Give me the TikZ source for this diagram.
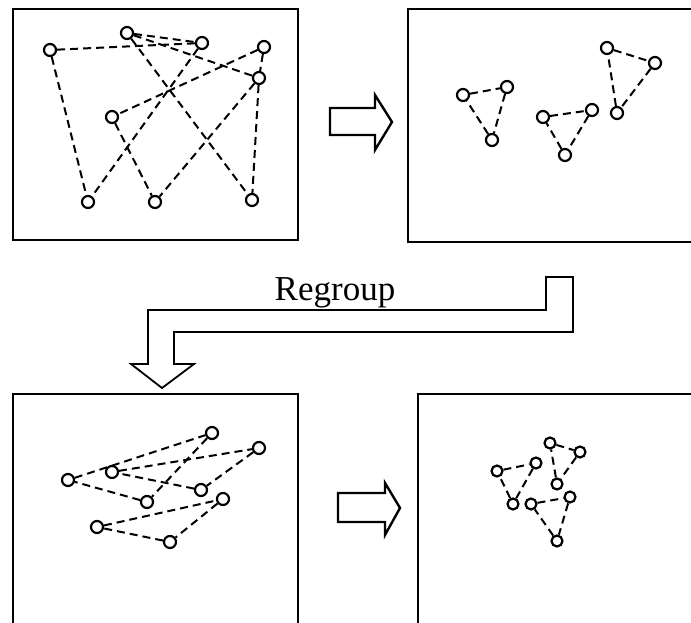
\documentclass[tikz,border=0pt]{standalone}
\usepackage{fontspec}
\setmainfont{Liberation Serif}
\usepackage{tikz}

\tikzset{
  vtx/.style={draw, circle, minimum size=12pt, inner sep=0pt, line width=2.2pt},
  link/.style={dashed, dash pattern=on 8pt off 5pt, line width=2pt},
  panel/.style={draw, line width=2.4pt},
  hollow/.style={draw, line width=2.4pt, line join=miter}
}

\begin{document}
\begin{tikzpicture}[x=1pt, y=-1pt]
    \useasboundingbox (0,0) rectangle (691,623);
    \clip (0,0) rectangle (691,623);

    % Panels
    \draw[panel] (13,9) rectangle (298,240);
    \draw[panel] (408,9) rectangle (720,242);
    \draw[panel] (13,394) rectangle (298,650);
    \draw[panel] (418,394) rectangle (720,650);

    % Panel 1: before grouping
    \node[vtx] (a1) at (50,50) {};
    \node[vtx] (a2) at (127,33) {};
    \node[vtx] (a3) at (202,43) {};
    \node[vtx] (a4) at (264,47) {};
    \node[vtx] (a5) at (259,78) {};
    \node[vtx] (a6) at (112,117) {};
    \node[vtx] (a7) at (88,202) {};
    \node[vtx] (a8) at (155,202) {};
    \node[vtx] (a9) at (252,200) {};
    \draw[link] (a1) -- (a3);
    \draw[link] (a2) -- (a3);
    \draw[link] (a2) -- (a5);
    \draw[link] (a2) -- (a9);
    \draw[link] (a1) -- (a7);
    \draw[link] (a3) -- (a7);
    \draw[link] (a4) -- (a5);
    \draw[link] (a4) -- (a6);
    \draw[link] (a5) -- (a8);
    \draw[link] (a5) -- (a9);
    \draw[link] (a6) -- (a8);

    % Panel 2: three groups
    \node[vtx] (b1) at (463,95) {};
    \node[vtx] (b2) at (507,87) {};
    \node[vtx] (b3) at (492,140) {};
    \node[vtx] (b4) at (543,117) {};
    \node[vtx] (b5) at (592,110) {};
    \node[vtx] (b6) at (565,155) {};
    \node[vtx] (b7) at (607,48) {};
    \node[vtx] (b8) at (655,63) {};
    \node[vtx] (b9) at (617,113) {};
    \draw[link] (b1) -- (b2) -- (b3) -- (b1);
    \draw[link] (b4) -- (b5) -- (b6) -- (b4);
    \draw[link] (b7) -- (b8) -- (b9) -- (b7);

    % Panel 3: regrouped
    \node[vtx] (c1) at (68,480) {};
    \node[vtx] (c2) at (112,472) {};
    \node[vtx] (c3) at (212,433) {};
    \node[vtx] (c4) at (259,448) {};
    \node[vtx] (c5) at (147,502) {};
    \node[vtx] (c6) at (201,490) {};
    \node[vtx] (c7) at (223,499) {};
    \node[vtx] (c8) at (97,527) {};
    \node[vtx] (c9) at (170,542) {};
    \draw[link] (c1) -- (c3) -- (c5) -- (c1);
    \draw[link] (c2) -- (c4) -- (c6) -- (c2);
    \draw[link] (c8) -- (c7) -- (c9) -- (c8);

    % Panel 4: after grouping
    \node[vtx, minimum size=11pt] (d1) at (497,471) {};
    \node[vtx, minimum size=11pt] (d2) at (536,463) {};
    \node[vtx, minimum size=11pt] (d3) at (550,443) {};
    \node[vtx, minimum size=11pt] (d4) at (580,452) {};
    \node[vtx, minimum size=11pt] (d5) at (557,484) {};
    \node[vtx, minimum size=11pt] (d6) at (513,504) {};
    \node[vtx, minimum size=11pt] (d7) at (531,504) {};
    \node[vtx, minimum size=11pt] (d8) at (570,497) {};
    \node[vtx, minimum size=11pt] (d9) at (557,541) {};
    \draw[link] (d1) -- (d2) -- (d6) -- (d1);
    \draw[link] (d3) -- (d4) -- (d5) -- (d3);
    \draw[link] (d7) -- (d8) -- (d9) -- (d7);

    % Block arrows
    \draw[hollow] (330,108) -- (375,108) -- (375,95) -- (392,122) -- (375,150) -- (375,135) -- (330,135) -- cycle;
    \draw[hollow] (338,493) -- (385,493) -- (385,483) -- (400,508) -- (385,535) -- (385,522) -- (338,522) -- cycle;

    % Regroup arrow
    \draw[hollow, line width=1.8pt] (546,277) -- (573,277) -- (573,332) -- (174,332) -- (174,364) -- (194,364)
        -- (162,388) -- (131,364) -- (148,364) -- (148,310) -- (546,310) -- cycle;
    \node[anchor=base, font=\fontsize{35}{40}\selectfont, inner sep=0pt] (lbl) at (335,300) {Regroup};
\end{tikzpicture}
\end{document}
